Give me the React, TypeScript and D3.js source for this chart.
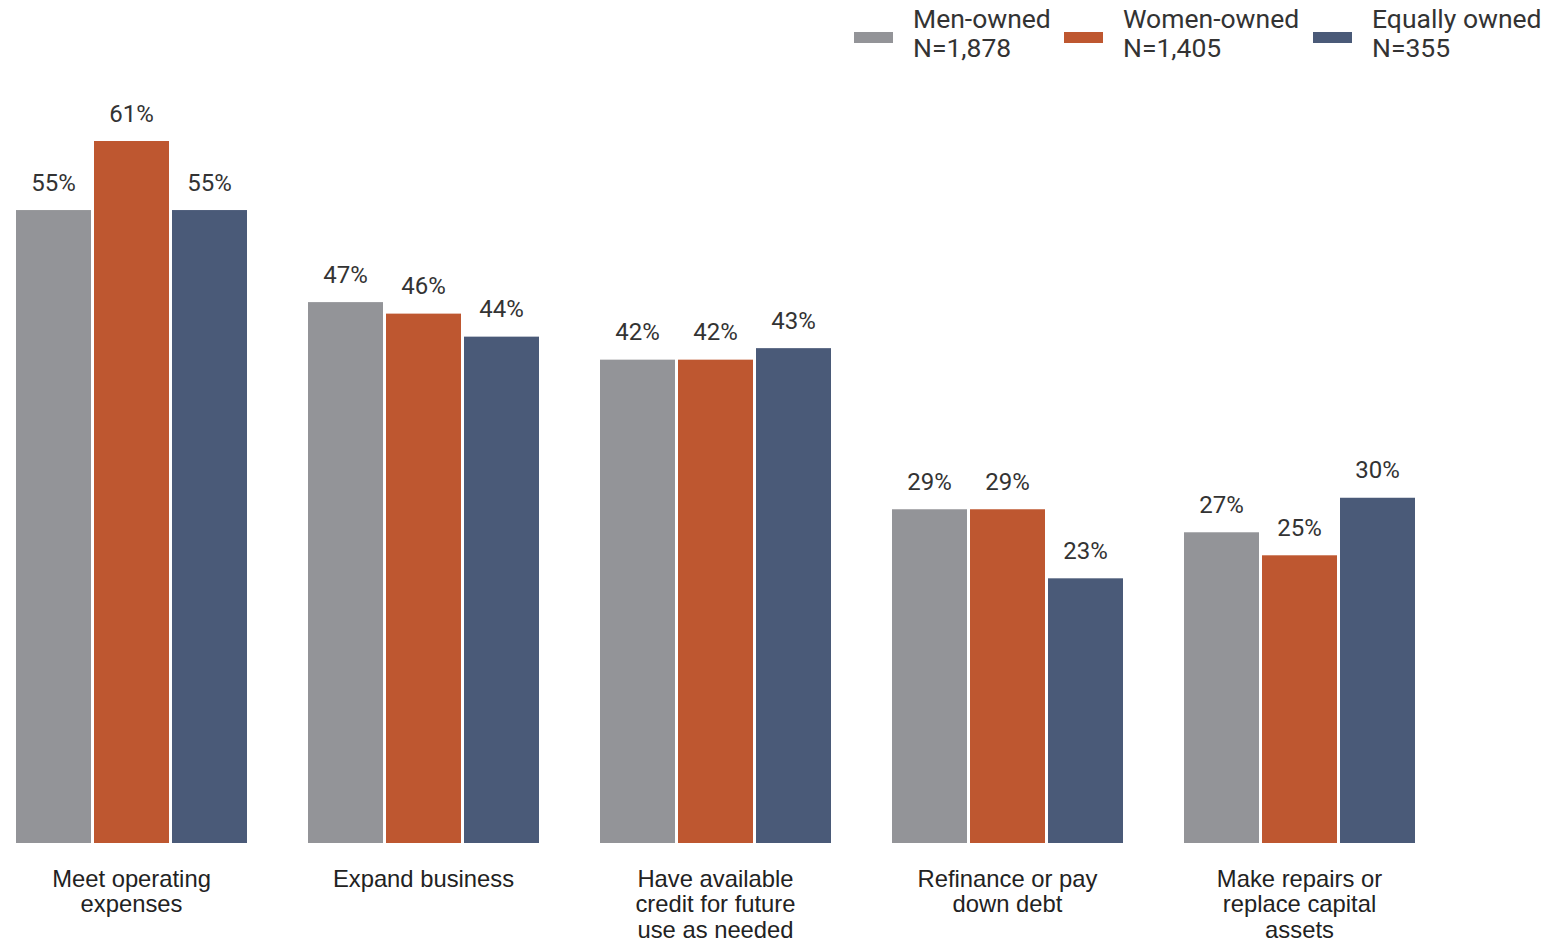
import React from "react";
import * as d3 from "d3";

const categories = [
  ["Meet operating", "expenses"],
  ["Expand business"],
  ["Have available", "credit for future", "use as needed"],
  ["Refinance or pay", "down debt"],
  ["Make repairs or", "replace capital", "assets"],
];
const seriesNames = ["Men-owned", "Women-owned", "Equally owned"];
const seriesN = ["N=1,878", "N=1,405", "N=355"];
const colors = ["#939498", "#BE5730", "#4A5A78"];
const menOwned = [55, 47, 42, 29, 27];
const womenOwned = [61, 46, 42, 29, 25];
const equallyOwned = [55, 44, 43, 23, 30];
const values = [menOwned, womenOwned, equallyOwned];
const legendX = [854, 1064, 1313];

export default function App() {
  const W = 1550, H = 941;
  const x0 = d3.scaleBand<number>().domain(d3.range(categories.length)).range([16, 1415]).paddingInner(61 / 292).paddingOuter(0);
  const x1 = d3.scaleBand<number>().domain([0, 1, 2]).range([0, x0.bandwidth()]).paddingInner(3 / 78).paddingOuter(0);
  const y = d3.scaleLinear().domain([0, 61]).range([843, 141]);
  const valueFont = "Roboto, sans-serif";
  const catFont = "'Liberation Sans', Arial, sans-serif";
  return (
    <svg width={W} height={H} style={{ position: "absolute", left: 0, top: 0, background: "#fff" }}>
      {categories.map((cat, i) => (
        <g key={i} transform={`translate(${x0(i)},0)`}>
          {values.map((s, j) => (
            <g key={j}>
              <rect x={x1(j)} y={y(s[i])} width={x1.bandwidth()} height={y(0) - y(s[i])} fill={colors[j]} />
              <text x={(x1(j) as number) + x1.bandwidth() / 2} y={y(s[i]) - 19.5} textAnchor="middle" fontFamily={valueFont} fontSize={24} fill="#333">
                {s[i]}%
              </text>
            </g>
          ))}
          {cat.map((line, k) => (
            <text key={k} x={x0.bandwidth() / 2} y={887 + k * 25.3} textAnchor="middle" fontFamily={catFont} fontSize={23.8} fill="#222">
              {line}
            </text>
          ))}
        </g>
      ))}
      {seriesNames.map((name, j) => (
        <g key={j} transform={`translate(${legendX[j]},0)`}>
          <rect x={0} y={32} width={39} height={11} fill={colors[j]} />
          <text x={59} y={27.5} fontFamily={valueFont} fontSize={26.5} fill="#333">{name}</text>
          <text x={59} y={56.5} fontFamily={valueFont} fontSize={26.5} fill="#333">{seriesN[j]}</text>
        </g>
      ))}
    </svg>
  );
}
